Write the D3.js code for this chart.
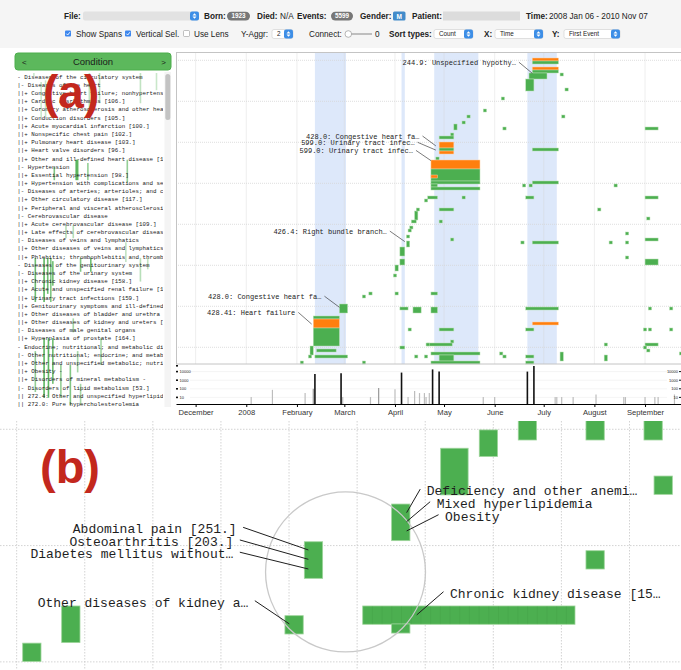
<!DOCTYPE html>
<html>
<head>
<meta charset="utf-8">
<script src="https://cdn.jsdelivr.net/npm/d3@7"></script>
<style>
  body { margin: 0; background: #fff; }
  svg { display: block; }
</style>
</head>
<body>
<svg id="chart" width="681" height="670"></svg>
<script>
// --- Setup ---
const svg = d3.select("#chart");
const parse = d3.timeParse("%Y-%m-%d");
const MONO = "'Liberation Mono', 'DejaVu Sans Mono', monospace";
const SANS = "'Liberation Sans', Arial, sans-serif";
const GREEN = "#4caf50", ORANGE = "#ff7f0e";

// --- Data ---
// highlighted time spans
const spans = [
    ["2008-02-12", "2008-03-02"], ["2008-04-05", "2008-04-07"],
    ["2008-04-25", "2008-05-22"], ["2008-06-21", "2008-07-09"]
];

// events: [start, days, row, rows, type]  (g = diagnosis, o = selected)
const events = [
    ["2008-06-24", 16, 101, 1, "o"], ["2008-06-24", 16, 100, 1, "g"],
    ["2008-06-24", 16, 98, 1, "o"], ["2008-06-24", 16, 97, 1, "g"],
    ["2008-06-22", 11, 95, 2, "g"], ["2008-06-20", 5, 91, 4, "g"],
    ["2008-07-11", 2, 96, 1, "g"], ["2008-07-14", 2, 91, 1, "g"],
    ["2008-06-05", 2, 88, 1, "g"], ["2008-05-25", 2, 84, 1, "g"],
    ["2008-05-15", 2, 82, 1, "g"], ["2008-05-12", 2, 80, 1, "g"],
    ["2008-05-07", 2, 78, 2, "g"], ["2008-05-05", 2, 76, 1, "g"],
    ["2008-07-12", 2, 82, 1, "g"], ["2008-06-06", 2, 78, 1, "g"],
    ["2008-09-01", 8, 78, 1, "g"],
    ["2008-04-28", 9, 75, 1, "g"], ["2008-04-28", 9, 72, 2, "o"],
    ["2008-04-28", 9, 71, 1, "g"], ["2008-04-28", 9, 70, 1, "o"],
    ["2008-06-24", 16, 71, 1, "g"], ["2008-04-26", 2, 68, 1, "g"],
    ["2008-04-23", 30, 65, 3, "o"], ["2008-04-23", 30, 61, 4, "g"],
    ["2008-04-23", 4, 62, 1, "o"], ["2008-04-23", 30, 60, 1, "g"],
    ["2008-04-23", 4, 59, 1, "g"], ["2008-04-23", 30, 58, 1, "g"],
    ["2008-06-24", 16, 60, 1, "g"], ["2008-06-18", 2, 59, 1, "g"],
    ["2008-06-22", 2, 59, 1, "g"], ["2008-08-13", 2, 59, 1, "g"],
    ["2008-04-21", 6, 55, 1, "g"], ["2008-04-19", 2, 54, 1, "g"],
    ["2008-05-12", 2, 55, 1, "g"], ["2008-06-20", 5, 55, 1, "g"],
    ["2008-09-01", 8, 55, 1, "g"],
    ["2008-04-28", 9, 51, 1, "g"], ["2008-08-03", 2, 51, 1, "g"],
    ["2008-09-02", 2, 48, 1, "g"], ["2008-04-13", 2, 48, 3, "g"],
    ["2008-04-14", 2, 51, 1, "g"],
    ["2008-04-11", 3, 47, 1, "g"], ["2008-04-28", 2, 47, 1, "g"],
    ["2008-04-10", 2, 45, 1, "g"], ["2008-04-09", 2, 44, 1, "g"],
    ["2008-08-20", 2, 43, 1, "g"], ["2008-04-08", 2, 42, 1, "g"],
    ["2008-05-05", 2, 41, 1, "g"], ["2008-09-01", 8, 41, 1, "g"],
    ["2008-06-17", 2, 40, 1, "g"], ["2008-06-24", 16, 40, 1, "g"],
    ["2008-08-10", 2, 40, 1, "g"], ["2008-08-20", 2, 40, 1, "g"],
    ["2008-04-08", 2, 39, 2, "g"], ["2008-04-04", 3, 36, 3, "g"],
    ["2008-08-20", 2, 35, 1, "g"], ["2008-04-04", 3, 33, 2, "g"],
    ["2008-09-01", 8, 33, 2, "g"], ["2008-04-01", 2, 31, 2, "g"],
    ["2008-03-31", 2, 29, 1, "g"],
    ["2008-04-23", 4, 23, 1, "g"], ["2008-03-12", 2, 22, 1, "g"],
    ["2008-03-16", 2, 23, 1, "g"], ["2008-04-01", 2, 23, 1, "g"],
    ["2008-02-27", 5, 17, 3, "g"], ["2008-04-04", 5, 18, 1, "g"],
    ["2008-04-12", 5, 17, 2, "g"], ["2008-04-23", 4, 17, 2, "g"],
    ["2008-06-20", 20, 18, 1, "g"], ["2008-09-03", 2, 18, 1, "g"],
    ["2008-09-16", 2, 18, 1, "g"],
    ["2008-02-11", 16, 15, 1, "g"], ["2008-02-11", 16, 12, 3, "o"],
    ["2008-06-24", 16, 13, 1, "o"], ["2008-02-11", 16, 6, 6, "g"],
    ["2008-04-28", 9, 11, 1, "g"], ["2008-04-09", 2, 11, 1, "g"],
    ["2008-06-20", 5, 11, 1, "g"], ["2008-08-31", 2, 11, 1, "g"],
    ["2008-09-03", 2, 11, 1, "g"], ["2008-09-16", 2, 11, 1, "g"],
    ["2008-05-05", 2, 7, 1, "g"], ["2008-04-21", 15, 6, 1, "g"],
    ["2008-04-20", 2, 6, 1, "g"], ["2008-08-07", 2, 6, 1, "g"],
    ["2008-09-01", 8, 6, 1, "g"],
    ["2008-02-09", 2, 3, 3, "g"], ["2008-02-13", 12, 4, 1, "g"],
    ["2008-04-04", 3, 5, 1, "g"], ["2008-08-31", 2, 5, 1, "g"],
    ["2008-09-02", 2, 4, 1, "g"], ["2008-04-23", 30, 3, 1, "g"],
    ["2008-06-04", 2, 3, 1, "g"], ["2008-09-22", 2, 3, 1, "g"],
    ["2008-02-12", 20, 2, 1, "g"], ["2008-02-08", 2, 2, 1, "g"],
    ["2008-04-13", 2, 2, 1, "g"], ["2008-04-19", 2, 2, 1, "g"],
    ["2008-04-28", 9, 1, 2, "g"], ["2008-06-06", 2, 2, 1, "g"],
    ["2008-06-20", 5, 2, 1, "g"], ["2008-07-11", 2, 1, 3, "g"],
    ["2008-08-07", 2, 1, 2, "g"], ["2008-04-23", 30, 0, 1, "g"],
    ["2008-06-20", 5, 0, 1, "g"], ["2008-02-03", 2, 0, 1, "g"],
    ["2008-03-12", 2, 0, 1, "g"]
];

// annotations in view (a): text, text end [date,row], target [date,row]
const labelsA = [
    ["244.9: Unspecified hypothy\u2026", "2008-06-14", 99.6, "2008-06-24", 96.9],
    ["428.0: Congestive heart fa\u2026", "2008-04-16", 75.0, "2008-04-26", 72.7],
    ["599.0: Urinary tract infec\u2026", "2008-04-13", 72.9, "2008-04-26", 71.3],
    ["599.0: Urinary tract infec\u2026", "2008-04-12", 70.2, "2008-04-23", 67.8],
    ["426.4: Right bundle branch\u2026", "2008-03-27", 43.3, "2008-04-07", 40.8],
    ["428.0: Congestive heart fa\u2026", "2008-02-16", 21.6, "2008-02-27", 18.9],
    ["428.41: Heart failure", "2008-01-31", 16.2, "2008-02-10", 13.3]
];

// event counts per day (histogram)
const histDates = [
    "2008-01-04", "2008-01-17", "2008-02-06", "2008-02-11", "2008-02-12", "2008-02-28",
    "2008-02-29", "2008-03-17", "2008-03-22", "2008-04-01", "2008-04-05", "2008-04-09",
    "2008-04-13", "2008-04-16", "2008-04-19", "2008-04-20", "2008-04-22", "2008-04-24",
    "2008-04-28", "2008-05-25", "2008-06-01", "2008-06-21", "2008-06-25", "2008-07-08",
    "2008-07-09", "2008-07-12", "2008-07-19", "2008-08-02", "2008-08-19", "2008-08-20",
    "2008-09-01", "2008-09-07", "2008-09-09", "2008-09-19"
];
const histCounts = [
    11, 76, 32, 100, 5400, 6400,
    11, 11, 120, 90, 7700, 11,
    54, 32, 32, 11, 32, 18000,
    10000, 11, 11, 10000, 45000, 11,
    11, 11, 11, 22, 11, 11,
    11, 11, 11, 22
];
const histTicks = [10, 100, 1000, 10000];

// condition hierarchy (left list)
const conditionTree = [
    "- Diseases of the circulatory system",
    "|- Diseases of the heart",
    "||+ Congestive heart failure; nonhypertensive",
    "||+ Cardiac dysrhythmias [106.]",
    "||+ Coronary atherosclerosis and other heart disease",
    "||+ Conduction disorders [105.]",
    "||+ Acute myocardial infarction [100.]",
    "||+ Nonspecific chest pain [102.]",
    "||+ Pulmonary heart disease [103.]",
    "||+ Heart valve disorders [96.]",
    "||+ Other and ill-defined heart disease [1",
    "|- Hypertension",
    "||+ Essential hypertension [98.]",
    "||+ Hypertension with complications and secondary",
    "|- Diseases of arteries; arterioles; and capillaries",
    "||+ Other circulatory disease [117.]",
    "||+ Peripheral and visceral atherosclerosis",
    "|- Cerebrovascular disease",
    "||+ Acute cerebrovascular disease [109.]",
    "||+ Late effects of cerebrovascular disease",
    "|- Diseases of veins and lymphatics",
    "||+ Other diseases of veins and lymphatics",
    "||+ Phlebitis; thrombophlebitis and thromboembolism",
    "- Diseases of the genitourinary system",
    "|- Diseases of the urinary system",
    "||+ Chronic kidney disease [158.]",
    "||+ Acute and unspecified renal failure [1",
    "||+ Urinary tract infections [159.]",
    "||+ Genitourinary symptoms and ill-defined",
    "||+ Other diseases of bladder and urethra",
    "||+ Other diseases of kidney and ureters [",
    "|- Diseases of male genital organs",
    "||+ Hyperplasia of prostate [164.]",
    "- Endocrine; nutritional; and metabolic diseases",
    "|- Other nutritional; endocrine; and metabolic",
    "||+ Other and unspecified metabolic; nutritional",
    "||+ Obesity -",
    "||+ Disorders of mineral metabolism -",
    "|- Disorders of lipid metabolism [53.]",
    "|| 272.4: Other and unspecified hyperlipidemia",
    "|| 272.0: Pure hypercholesterolemia"
];

// event traces behind the list: [x fraction, from line, to line, strength]
const treeOverlay = [
    [0.11, 0, 0.4, 0.3], [0.16, 1.1, 5.4, 0.3], [0.19, 0.9, 5.4, 0.3],
    [0.25, 11.5, 13.1, 0.7], [0.40, 10.6, 13.1, 0.9], [0.41, 10.6, 13.1, 0.9],
    [0.48, 11, 13.1, 0.6], [0.49, 0, 5.1, 0.35], [0.56, 0, 3.7, 0.35],
    [0.75, 10.6, 13.4, 0.6], [0.84, 0, 3.7, 0.35], [0.95, 0, 2.1, 0.3],
    [0.12, 22.6, 28, 0.8], [0.18, 22.6, 28, 0.9], [0.205, 22.6, 27, 0.8],
    [0.226, 22.6, 28, 0.7], [0.24, 23, 26, 0.8],
    [0.33, 18.6, 20.2, 0.4], [0.38, 18.6, 20.2, 0.4], [0.38, 30, 31.7, 0.5],
    [0.43, 22.6, 24.3, 0.7], [0.5, 22.6, 24.3, 0.8], [0.74, 20.7, 23.1, 0.35],
    [0.84, 22.6, 25.5, 0.4], [0.89, 22.6, 24, 0.35],
    [0.18, 32.4, 39.7, 0.9], [0.21, 32.4, 39.7, 0.9], [0.24, 32.4, 38, 0.8],
    [0.12, 34, 39, 0.6], [0.295, 35.7, 39.7, 0.6], [0.36, 35.7, 40.6, 0.7],
    [0.41, 34, 36.6, 0.5], [0.43, 38, 40.6, 0.5], [0.57, 32.4, 35.7, 0.5]
];

// view (b), magnified lens: cells [col, row, width, height]
const lensCells = [
    [0, 12.1, 1, 1], [2.13, 10.07, 1, 2], [14.33, 10.6, 1, 1], [15.39, 6.56, 1, 2],
    [27.08, -0.5, 1, 1.5], [30.78, -0.5, 1, 1.5], [33.95, -0.5, 1, 1.5],
    [24.95, 0.45, 1, 1.45], [22.84, 1.45, 1.5, 2.55], [34.5, 2.97, 1, 1],
    [20.16, 4.5, 1, 2], [30.78, 7.05, 1, 1], [18.58, 10.07, 11.6, 1], [20.16, 11.05, 1, 0.5]
];
// annotations in view (b): text, anchor, text point [col,row], target [col,row]
const labelsB = [
    ["Abdominal pain [251.]", "end", 11.69, 6.10, 15.61, 7.01],
    ["Osteoarthritis [203.]", "end", 11.51, 6.79, 15.61, 7.52],
    ["Diabetes mellitus without\u2026", "end", 11.51, 7.46, 15.61, 8.05],
    ["Other diseases of kidney a\u2026", "end", 12.33, 10.11, 14.57, 11.05],
    ["Deficiency and other anemi\u2026", "start", 22.08, 4.01, 20.98, 4.97],
    ["Mixed hyperlipidemia", "start", 22.62, 4.70, 20.98, 5.46],
    ["Obesity", "start", 23.08, 5.41, 20.98, 5.97],
    ["Chronic kidney disease [15\u2026", "start", 23.35, 9.62, 21.53, 10.56]
];
const lensCircle = [17.64, 8.21, 4.37];

// --- Toolbar ---
const bar = svg.append("g").attr("font-family", SANS);
bar.append("rect").attr("width", 681).attr("height", 48).attr("fill", "#f5f5f5");

function txt(g, x, y, s, opts = {}) {
    return g.append("text").attr("x", x).attr("y", y)
        .attr("font-size", opts.size || 8.2)
        .attr("font-weight", opts.bold ? "bold" : null)
        .attr("fill", opts.fill || "#222")
        .attr("text-anchor", opts.anchor || "start")
        .text(s);
}
function selectBox(g, x, y, w, label, fill) {
    g.append("rect").attr("x", x).attr("y", y).attr("width", w).attr("height", 9)
        .attr("rx", 2).attr("fill", fill || "#fff").attr("stroke", fill ? "none" : "#ccc").attr("stroke-width", 0.6);
    g.append("rect").attr("x", x + w - 9).attr("y", y).attr("width", 9).attr("height", 9)
        .attr("rx", 2).attr("fill", "#3d8ee6");
    g.append("path").attr("fill", "#fff")
        .attr("d", `M${x + w - 6.5},${y + 4}l2,-2.2l2,2.2z M${x + w - 6.5},${y + 5}l2,2.2l2,-2.2z`);
    if (label) txt(g, x + 5, y + 6.8, label, { size: 6.3 });
}
function pill(g, x, w, s) {
    g.append("rect").attr("x", x).attr("y", 11.8).attr("width", w).attr("height", 8.6)
        .attr("rx", 4.3).attr("fill", "#777");
    txt(g, x + w / 2, 18.4, s, { size: 6.3, bold: true, fill: "#fff", anchor: "middle" });
}
function checkbox(g, x, on) {
    g.append("rect").attr("x", x).attr("y", 30.5).attr("width", 6).attr("height", 6).attr("rx", 1)
        .attr("fill", on ? "#3b86ee" : "#fff").attr("stroke", on ? "none" : "#999").attr("stroke-width", 0.6);
    if (on) g.append("path").attr("d", `M${x + 1.3},${33.6}l1.4,1.4l2.2,-2.8`)
        .attr("fill", "none").attr("stroke", "#fff").attr("stroke-width", 0.9);
}

txt(bar, 64, 19, "File:", { bold: true });
selectBox(bar, 83, 11.5, 116, null, "#e2e2e2");
txt(bar, 204, 19, "Born:", { bold: true });
pill(bar, 227, 23, "1923");
txt(bar, 257, 19, "Died:", { bold: true });
txt(bar, 280, 19, "N/A");
txt(bar, 297, 19, "Events:", { bold: true });
pill(bar, 331, 22, "5599");
txt(bar, 360, 19, "Gender:", { bold: true });
bar.append("rect").attr("x", 393).attr("y", 11.5).attr("width", 12.5).attr("height", 9)
    .attr("rx", 1.5).attr("fill", "#428bca");
txt(bar, 399.3, 18.5, "M", { size: 6.5, bold: true, fill: "#fff", anchor: "middle" });
txt(bar, 412, 19, "Patient:", { bold: true });
bar.append("rect").attr("x", 443).attr("y", 11.5).attr("width", 77).attr("height", 9).attr("fill", "#dcdcdc");
txt(bar, 526, 19, "Time:", { bold: true });
txt(bar, 549, 19, "2008 Jan 06 - 2010 Nov 07");

checkbox(bar, 65, true);
txt(bar, 76, 37, "Show Spans");
checkbox(bar, 125, true);
txt(bar, 136, 37, "Vertical Sel.");
checkbox(bar, 183.5, false);
txt(bar, 194, 37, "Use Lens");
txt(bar, 241, 37, "Y-Aggr:");
selectBox(bar, 272, 29.5, 21, "2");
txt(bar, 309, 37, "Connect:");
bar.append("line").attr("x1", 350).attr("x2", 372).attr("y1", 34).attr("y2", 34)
    .attr("stroke", "#999").attr("stroke-width", 1.2);
bar.append("circle").attr("cx", 348.3).attr("cy", 34).attr("r", 3.3)
    .attr("fill", "#fff").attr("stroke", "#888").attr("stroke-width", 0.6);
txt(bar, 375, 37, "0");
txt(bar, 389, 37, "Sort types:", { bold: true });
selectBox(bar, 434, 29.5, 39, "Count");
txt(bar, 484, 37, "X:", { bold: true });
selectBox(bar, 495, 29.5, 48, "Time");
txt(bar, 552, 37, "Y:", { bold: true });
selectBox(bar, 564, 29.5, 56, "First Event");

// --- Left panel: condition list ---
const panel = svg.append("g");
panel.append("rect").attr("x", 15).attr("y", 53).attr("width", 156).attr("height", 17)
    .attr("rx", 3).attr("fill", "#5cb85c").attr("stroke", "#4cae4c");
txt(panel, 93, 65, "Condition", { size: 9.5, fill: "#1b1b1b", anchor: "middle" }).attr("font-family", SANS);
txt(panel, 22, 65, "<", { size: 8, fill: "#1b1b1b" }).attr("font-family", SANS);
txt(panel, 166, 65, ">", { size: 8, fill: "#1b1b1b", anchor: "end" }).attr("font-family", SANS);

const lineTop = d3.scaleLinear().domain([0, 1]).range([73, 81.18]);
const fracX = d3.scaleLinear().domain([0, 1]).range([17, 163]);

svg.append("defs").append("clipPath").attr("id", "listClip")
    .append("rect").attr("x", 15).attr("y", 72).attr("width", 148).attr("height", 335);

const list = panel.append("g").attr("clip-path", "url(#listClip)");
list.selectAll("rect.trace").data(treeOverlay).enter().append("rect")
    .attr("class", "trace")
    .attr("x", d => fracX(d[0]))
    .attr("y", d => lineTop(d[1]))
    .attr("width", 1.6)
    .attr("height", d => lineTop(d[2]) - lineTop(d[1]))
    .attr("fill", GREEN)
    .attr("opacity", d => d[3]);
list.selectAll("text.cond").data(conditionTree).enter().append("text")
    .attr("class", "cond")
    .attr("x", 17.3)
    .attr("y", (d, i) => lineTop(i) + 5.7)
    .attr("font-family", MONO)
    .attr("font-size", 5.8)
    .attr("fill", "#222")
    .text(d => d);

// scrollbar
panel.append("rect").attr("x", 164.5).attr("y", 72).attr("width", 6.5).attr("height", 335).attr("fill", "#f4f4f4");
panel.append("rect").attr("x", 165.3).attr("y", 74).attr("width", 5).attr("height", 46).attr("rx", 2.5).attr("fill", "#c3c3c3");

// --- Main timeline (a) ---
const x = d3.scaleTime().domain([parse("2007-11-19"), parse("2008-09-23")]).range([176, 681]);
const y = d3.scaleLinear().domain([0, 102]).range([364, 58]);
const top0 = 52.5, bottom0 = 364;

const main = svg.append("g");
main.selectAll("rect.span").data(spans).enter().append("rect")
    .attr("class", "span")
    .attr("x", d => x(parse(d[0])))
    .attr("y", top0)
    .attr("width", d => x(parse(d[1])) - x(parse(d[0])))
    .attr("height", bottom0 - top0)
    .attr("fill", "#dde8fa");

// grid
main.selectAll("line.vgrid").data(x.ticks(d3.timeMonth.every(1))).enter().append("line")
    .attr("x1", d => x(d)).attr("x2", d => x(d))
    .attr("y1", top0).attr("y2", bottom0)
    .attr("stroke", "#d5d5d5").attr("stroke-width", 0.8).attr("stroke-dasharray", "1,1");
main.selectAll("line.hgrid").data(d3.range(5.57, 102, 41 / 3)).enter().append("line")
    .attr("x1", 176).attr("x2", 681)
    .attr("y1", d => y(d)).attr("y2", d => y(d))
    .attr("stroke", "#d5d5d5").attr("stroke-width", 0.8).attr("stroke-dasharray", "1,1");

// events
const dayOffset = d3.timeDay.offset;
main.selectAll("rect.ev").data(events).enter().append("rect")
    .attr("class", "ev")
    .attr("x", d => x(parse(d[0])))
    .attr("y", d => y(d[2] + d[3]))
    .attr("width", d => Math.max(3, x(dayOffset(parse(d[0]), d[1])) - x(parse(d[0]))))
    .attr("height", d => y(d[2]) - y(d[2] + d[3]))
    .attr("fill", d => d[4] === "o" ? ORANGE : GREEN)
    .attr("stroke", d => d[4] === "o" ? "#ffd0a6" : "#b6dfb3")
    .attr("stroke-width", 0.5);

// annotations
const ann = main.append("g");
labelsA.forEach(d => {
    const tx = x(parse(d[1])), ty = y(d[2]);
    ann.append("text").attr("x", tx).attr("y", ty)
        .attr("text-anchor", "end").attr("font-family", MONO).attr("font-size", 7)
        .attr("fill", "#222").text(d[0]);
    ann.append("line")
        .attr("x1", tx + 3).attr("y1", ty - 3)
        .attr("x2", x(parse(d[3]))).attr("y2", y(d[4]))
        .attr("stroke", "#222").attr("stroke-width", 0.6);
});

main.append("rect").attr("x", 176.5).attr("y", top0).attr("width", 505).attr("height", bottom0 - top0)
    .attr("fill", "none").attr("stroke", "#c4c4c4").attr("stroke-width", 1);

// --- Histogram ---
const yH = d3.scaleLog().domain([1, 100000]).range([406, 363]);
const hist = svg.append("g");
hist.selectAll("line.hg").data(histTicks).enter().append("line")
    .attr("x1", 190).attr("x2", 667)
    .attr("y1", d => yH(d)).attr("y2", d => yH(d))
    .attr("stroke", "#ececec").attr("stroke-width", 0.6);
hist.selectAll("line.hb").data(histCounts).enter().append("line")
    .attr("x1", (d, i) => x(parse(histDates[i]))).attr("x2", (d, i) => x(parse(histDates[i])))
    .attr("y1", 404).attr("y2", d => yH(d))
    .attr("stroke", d => d >= 1000 ? "#111" : (d >= 100 ? "#999" : "#bdbdbd"))
    .attr("stroke-width", d => d >= 1000 ? 1.6 : 1.2);
histTicks.forEach(v => {
    hist.append("rect").attr("x", 176).attr("y", yH(v) - 0.8).attr("width", 2).attr("height", 1.6).attr("fill", "#111");
    txt(hist, 179.5, yH(v) + 1.4, d3.format("d")(v), { size: 4 }).attr("font-family", SANS);
    txt(hist, 678, yH(v) + 1.4, d3.format("d")(v), { size: 4, anchor: "end" }).attr("font-family", SANS);
    hist.append("rect").attr("x", 679).attr("y", yH(v) - 0.5).attr("width", 2).attr("height", 1).attr("fill", "#111");
});
hist.append("rect").attr("x", 176).attr("y", 365).attr("width", 2).attr("height", 1.6).attr("fill", "#111");

// time axis
const xAxis = svg.append("g").attr("transform", "translate(0,404)")
    .call(d3.axisBottom(x).ticks(d3.timeMonth.every(1)).tickSize(3).tickSizeOuter(0));
xAxis.select(".domain").attr("stroke", "#000").attr("stroke-width", 1.2);
xAxis.selectAll(".tick line").attr("stroke", "#000");
xAxis.selectAll(".tick text").attr("font-family", SANS).attr("font-size", 7.6).attr("fill", "#333");

// --- Magnified view (b) ---
const bx = d3.scaleLinear().domain([0, 1]).range([22.7, 41]);
const by = d3.scaleLinear().domain([0, 1]).range([421.7, 440]);
const lens = svg.append("g");
svg.select("defs").append("clipPath").attr("id", "lensClip")
    .append("rect").attr("x", 0).attr("y", 421).attr("width", 681).attr("height", 249);
lens.attr("clip-path", "url(#lensClip)");

lens.selectAll("line.bv").data(d3.range(-0.33, 36, 3.721)).enter().append("line")
    .attr("x1", d => bx(d)).attr("x2", d => bx(d)).attr("y1", 421).attr("y2", 670)
    .attr("stroke", "#c8c8c8").attr("stroke-width", 0.8).attr("stroke-dasharray", "1.5,1.5");
lens.selectAll("line.bh").data(d3.range(0.415, 14, 6.355)).enter().append("line")
    .attr("x1", 0).attr("x2", 681).attr("y1", d => by(d)).attr("y2", d => by(d))
    .attr("stroke", "#c8c8c8").attr("stroke-width", 0.8).attr("stroke-dasharray", "1.5,1.5");

lens.selectAll("rect.cell").data(lensCells).enter().append("rect")
    .attr("x", d => bx(d[0])).attr("y", d => by(d[1]))
    .attr("width", d => bx(d[0] + d[2]) - bx(d[0]))
    .attr("height", d => by(d[1] + d[3]) - by(d[1]))
    .attr("fill", GREEN).attr("stroke", "#9ed59b").attr("stroke-width", 0.8);
// day separators in the long kidney-disease bar
const longBar = lensCells[12];
lens.selectAll("line.day").data(d3.range(longBar[0] + 0.53, longBar[0] + longBar[2], 0.53)).enter().append("line")
    .attr("x1", d => bx(d)).attr("x2", d => bx(d))
    .attr("y1", by(longBar[1])).attr("y2", by(longBar[1] + longBar[3]))
    .attr("stroke", "rgba(0,60,0,0.09)").attr("stroke-width", 0.6);

lens.append("circle")
    .attr("cx", bx(lensCircle[0])).attr("cy", by(lensCircle[1]))
    .attr("r", bx(lensCircle[2]) - bx(0))
    .attr("fill", "none").attr("stroke", "#c9c9c9").attr("stroke-width", 1.3);

labelsB.forEach(d => {
    const tx = bx(d[2]), ty = by(d[3]);
    const dx = d[1] === "end" ? 6.5 : -6.5;
    lens.append("text").attr("x", tx).attr("y", ty)
        .attr("text-anchor", d[1]).attr("font-family", MONO).attr("font-size", 13)
        .attr("fill", "#1e1e1e").text(d[0]);
    lens.append("line")
        .attr("x1", tx + dx).attr("y1", ty - 6)
        .attr("x2", bx(d[4])).attr("y2", by(d[5]))
        .attr("stroke", "#1e1e1e").attr("stroke-width", 1);
});

// --- Figure tags ---
svg.append("text").attr("x", 43).attr("y", 108).attr("font-family", SANS).attr("font-weight", "bold")
    .attr("font-size", 46).attr("fill", "#c3281d").text("(a)");
svg.append("text").attr("x", 40).attr("y", 483).attr("font-family", SANS).attr("font-weight", "bold")
    .attr("font-size", 47).attr("fill", "#c3281d").text("(b)");
</script>
</body>
</html>
